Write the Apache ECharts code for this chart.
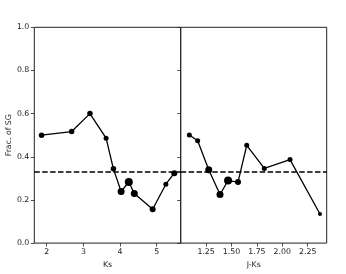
<!DOCTYPE html>
<html>
<head>
<meta charset="utf-8">
<script src="https://cdn.jsdelivr.net/npm/echarts@6/dist/echarts.min.js"></script>
<style>html,body{margin:0;padding:0;background:#fff}#c{width:346px;height:274px}</style>
</head>
<body>
<div id="c"></div>
<script>
// Left panel: Ks vs fraction
const ksX = [1.86, 2.68, 3.18, 3.62, 3.82, 4.03, 4.24, 4.39, 4.89, 5.25, 5.48];
const ksY = [0.50, 0.517, 0.600, 0.486, 0.344, 0.239, 0.283, 0.230, 0.157, 0.273, 0.324];
const ksWeight = [5.5, 5.5, 5.5, 5, 5.5, 7, 8, 7, 6, 5, 6];
// Right panel: J-Ks vs fraction
const jkX = [1.085, 1.167, 1.276, 1.387, 1.466, 1.564, 1.65, 1.823, 2.076, 2.371];
const jkY = [0.501, 0.474, 0.340, 0.225, 0.290, 0.283, 0.453, 0.346, 0.387, 0.135];
const jkWeight = [5, 5, 7, 7, 8, 6, 5, 5, 5, 4];
const refLevel = 1 / 3;
const ksTicks = [2, 3, 4, 5];
const jkTicks = [1.25, 1.5, 1.75, 2.0, 2.25];
const yTicks = [0, 0.2, 0.4, 0.6, 0.8, 1.0];

const FONT = 'DejaVu Sans';
const FS = 7.8;
const lineCol = '#000';

function pts(xs, ys, ws) {
  return xs.map((x, i) => ({ value: [x, ys[i]], symbolSize: ws[i] }));
}

const chart = echarts.init(document.getElementById('c'), null, { renderer: 'canvas' });
const axisCommon = {
  axisLine: { show: false },
  splitLine: { show: false },
  axisTick: { show: true, inside: false, length: 3.5, lineStyle: { color: '#222', width: 0.8 } },
  axisLabel: { color: '#222', fontFamily: FONT, fontSize: FS, margin: 5 }
};
const markLine = {
  silent: true,
  symbol: 'none',
  label: { show: false },
  lineStyle: { color: '#000', type: [5.5, 2.4], width: 1.5 },
  data: [{ yAxis: refLevel }]
};
chart.setOption({
  animation: false,
  backgroundColor: '#fff',
  grid: [
    { left: 34.3, top: 27.3, width: 146.4, height: 219.4, show: true, borderColor: '#222', borderWidth: 1, backgroundColor: 'transparent' },
    { left: 180.7, top: 27.3, width: 146, height: 219.4, show: true, borderColor: '#222', borderWidth: 1, backgroundColor: 'transparent' }
  ],
  xAxis: [
    Object.assign({}, axisCommon, {
      type: 'value', gridIndex: 0, min: 1.662, max: 5.655,
      name: 'Ks', nameLocation: 'middle', nameGap: 16,
      nameTextStyle: { fontFamily: FONT, fontSize: FS, color: '#222' },
      axisTick: Object.assign({}, axisCommon.axisTick, { customValues: ksTicks }),
      axisLabel: Object.assign({}, axisCommon.axisLabel, { customValues: ksTicks, formatter: v => String(v) })
    }),
    Object.assign({}, axisCommon, {
      type: 'value', gridIndex: 1, min: 1.0, max: 2.437,
      name: 'J-Ks', nameLocation: 'middle', nameGap: 16,
      nameTextStyle: { fontFamily: FONT, fontSize: FS, color: '#222' },
      axisTick: Object.assign({}, axisCommon.axisTick, { customValues: jkTicks }),
      axisLabel: Object.assign({}, axisCommon.axisLabel, { customValues: jkTicks, formatter: v => v.toFixed(2) })
    })
  ],
  yAxis: [
    Object.assign({}, axisCommon, {
      type: 'value', gridIndex: 0, min: 0, max: 1, interval: 0.2,
      name: 'Frac. of SG', nameLocation: 'middle', nameGap: 19,
      nameTextStyle: { fontFamily: FONT, fontSize: FS, color: '#222' },
      axisTick: Object.assign({}, axisCommon.axisTick, { customValues: yTicks }),
      axisLabel: Object.assign({}, axisCommon.axisLabel, { customValues: yTicks, formatter: v => v.toFixed(1) })
    }),
    Object.assign({}, axisCommon, {
      type: 'value', gridIndex: 1, min: 0, max: 1, interval: 0.2,
      axisTick: Object.assign({}, axisCommon.axisTick, { customValues: yTicks }),
      axisLabel: { show: false }
    })
  ],
  series: [
    {
      type: 'line', xAxisIndex: 0, yAxisIndex: 0, data: pts(ksX, ksY, ksWeight),
      symbol: 'circle', color: lineCol, lineStyle: { color: lineCol, width: 1.3 },
      itemStyle: { color: lineCol }, markLine: markLine, silent: true
    },
    {
      type: 'line', xAxisIndex: 1, yAxisIndex: 1, data: pts(jkX, jkY, jkWeight),
      symbol: 'circle', color: lineCol, lineStyle: { color: lineCol, width: 1.3 },
      itemStyle: { color: lineCol }, markLine: markLine, silent: true
    }
  ]
});
</script>
</body>
</html>
